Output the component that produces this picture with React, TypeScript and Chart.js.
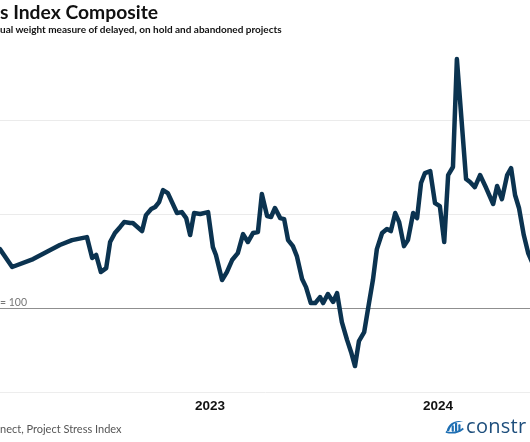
import React, { useEffect, useRef } from "react";
import { Chart, registerables } from "chart.js";

Chart.register(...registerables);

// Week index counted from 1 Jan 2022 (weekly Project Stress Index readings)
const weeks = [
  3.4, 4.1, 6.9, 11.7, 17.8, 20.6, 24.0, 25.2, 26.1, 27.2, 28.4, 29.3, 30.4, 31.6, 32.5, 33.9,
  34.5, 36.6, 37.5, 38.7, 39.6, 40.5, 41.4, 42.5, 44.6, 45.7, 46.7, 47.6, 48.5, 49.9, 51.7,
  52.8, 53.5, 54.9, 56.0, 57.2, 58.5, 59.7, 60.8, 62.0, 63.1, 64.0, 65.2, 66.1, 67.0, 68.2,
  69.1, 70.0, 71.1, 72.0, 73.2, 74.1, 75.2, 76.2, 77.3, 78.0, 79.1, 80.3, 81.2, 82.3, 83.5,
  84.4, 85.3, 86.2, 87.4, 88.5, 89.4, 90.3, 91.5, 92.6, 93.5, 94.5, 95.4, 96.5, 97.4, 98.6,
  99.5, 100.4, 101.3, 102.5, 103.6, 104.7, 105.7, 106.6, 107.7, 108.6, 110.7, 111.6, 112.7,
  113.9, 115.3, 116.9, 117.8, 118.9, 120.1, 121.0, 121.9, 122.8, 123.9, 124.9, 125.8,
];
const values = [
  134.3, 131.6, 122.1, 126.3, 133.8, 136.4, 138.0, 126.9, 128.5, 119.4, 121.5, 135.4, 140.2,
  143.4, 146.0, 145.5, 145.5, 141.2, 149.7, 152.9, 154.0, 156.6, 163.0, 161.4, 150.8, 151.3,
  148.1, 139.1, 150.8, 150.3, 151.3,
  132.7, 128.5, 115.2, 119.4, 125.8, 129.5, 139.6, 135.4, 140.2, 140.7, 160.9, 149.2, 148.7,
  153.5, 148.1, 147.6, 136.4, 133.2, 127.9, 115.7, 111.4, 102.9, 102.9, 106.1, 102.9, 107.7,
  103.5, 108.2, 92.8, 83.2, 76.9, 69.4, 82.7, 87.5, 102.9, 115.2, 131.6, 140.2, 142.3, 141.2,
  150.8, 146.0, 133.2, 136.4, 150.8, 148.1, 166.8, 172.1, 173.1, 156.1, 154.5, 135.4, 171.0,
  175.3, 232.7, 168.9, 167.3, 164.6, 171.0, 164.1, 155.6, 165.2, 158.2, 171.0, 174.7, 160.4,
  153.5, 139.1, 129.5, 124.7,
];

const yearTicks = [52.14, 104.29];
const yearLabels = ["2023", "2024"];
const gridValues = [100, 150, 200];
const baseValue = 100;

const X_MIN = 4.12;
const X_MAX = 125.32;
const Y_MIN = 55.6;
const Y_MAX = 240.2;

const LINE = "#0b3350";

function LogoIcon() {
  return (
    <svg width="20" height="18" viewBox="0 0 24 18" style={{ position: "absolute", left: 445, top: 417 }}>
      <path d="M2 15 C 4 5, 14 1, 22 4 C 14 3, 7 7, 5 15 Z" fill="#1e6fb3" />
      <rect x="8" y="8" width="2.6" height="8" rx="1" fill="#1e6fb3" />
      <rect x="12" y="5" width="2.6" height="11" rx="1" fill="#1e6fb3" />
      <rect x="16" y="7" width="2.6" height="9" rx="1" fill="#1e6fb3" />
      <path d="M1 16 C 8 18, 16 17, 22 12" stroke="#1e6fb3" strokeWidth="2" fill="none" />
    </svg>
  );
}

export default function App() {
  const ref = useRef<HTMLCanvasElement | null>(null);

  useEffect(() => {
    if (!ref.current) return;
    const chart = new Chart(ref.current, {
      type: "line",
      data: {
        datasets: [
          {
            data: weeks.map((w, i) => ({ x: w, y: values[i] })),
            borderColor: LINE,
            borderWidth: 4.5,
            pointRadius: 0,
            tension: 0,
            borderJoinStyle: "round",
            borderCapStyle: "round",
            fill: false,
          },
        ],
      },
      options: {
        animation: false,
        responsive: false,
        maintainAspectRatio: false,
        layout: { padding: { top: 45, left: 0, right: 0, bottom: 0 } },
        plugins: { legend: { display: false }, tooltip: { enabled: false }, title: { display: false } },
        scales: {
          x: {
            type: "linear",
            min: X_MIN,
            max: X_MAX,
            grid: { display: false, drawTicks: false },
            border: { display: true, color: "#ededed", width: 1 },
            afterBuildTicks: (s: any) => {
              s.ticks = yearTicks.map((v) => ({ value: v }));
            },
            afterFit: (s: any) => {
              s.height = 50;
            },
            ticks: {
              padding: 6,
              color: "#111",
              font: { family: "'Liberation Sans', Arial, sans-serif", size: 13.5, weight: "bold" },
              callback: (v: any) => {
                const i = yearTicks.indexOf(Number(v));
                return i >= 0 ? yearLabels[i] : "";
              },
              maxRotation: 0,
              autoSkip: false,
            },
          },
          y: {
            type: "linear",
            min: Y_MIN,
            max: Y_MAX,
            afterBuildTicks: (s: any) => {
              s.ticks = gridValues.map((v) => ({ value: v }));
            },
            afterFit: (s: any) => {
              s.width = 0;
            },
            grid: {
              drawTicks: false,
              color: (ctx: any) => (ctx.tick && ctx.tick.value === baseValue ? "#8f8f8f" : "#ebebeb"),
              lineWidth: 1,
            },
            border: { display: false },
            ticks: { display: false },
          },
        },
      },
    });
    return () => chart.destroy();
  }, []);

  const base: React.CSSProperties = { position: "absolute", whiteSpace: "nowrap", margin: 0 };

  return (
    <div style={{ position: "absolute", left: 0, top: 0, width: 530, height: 442, overflow: "hidden", background: "#fff" }}>
      <canvas ref={ref} width={530} height={442} style={{ position: "absolute", left: 0, top: 0, width: 530, height: 442 }} />
      <div style={{ ...base, left: 0, top: 1, fontFamily: "Lato, sans-serif", fontWeight: 700, fontSize: 19.3, lineHeight: "22px", color: "#111" }}>
        s Index Composite
      </div>
      <div style={{ ...base, left: 0, top: 23, fontFamily: "Lato, sans-serif", fontWeight: 700, fontSize: 10, lineHeight: "12px", color: "#111" }}>
        ual weight measure of delayed, on hold and abandoned projects
      </div>
      <div style={{ ...base, left: 0, top: 296, fontFamily: "Lato, sans-serif", fontSize: 10.5, lineHeight: "12px", color: "#777" }}>
        = 100
      </div>
      <div style={{ ...base, left: 0, top: 423, fontFamily: "Lato, sans-serif", fontSize: 11, lineHeight: "12px", color: "#555" }}>
        nect, Project Stress Index
      </div>
      <LogoIcon />
      <div style={{ ...base, left: 466, top: 414, fontFamily: "'Open Sans', sans-serif", fontWeight: 400, fontSize: 20, lineHeight: "24px", color: "#1d4e7c", letterSpacing: 0.3 }}>
        constr
      </div>
    </div>
  );
}
